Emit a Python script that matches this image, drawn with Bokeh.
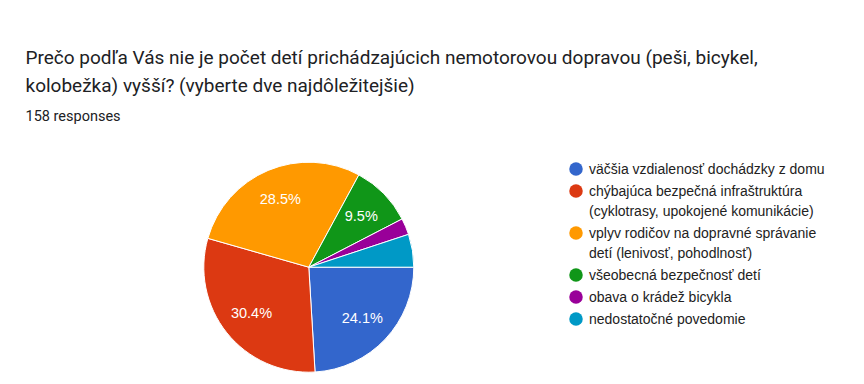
import math
from bokeh.plotting import figure
from bokeh.models import Range1d
from bokeh.core.properties import value
from bokeh.embed import file_html
from bokeh.resources import INLINE

# ---- data ----
title_lines = [
    "Prečo podľa Vás nie je počet detí prichádzajúcich nemotorovou dopravou (peši, bicykel,",
    "kolobežka) vyšší? (vyberte dve najdôležitejšie)",
]
subtitle = "158 responses"
categories = [
    "väčšia vzdialenosť dochádzky z domu",
    "chýbajúca bezpečná infraštruktúra\n(cyklotrasy, upokojené komunikácie)",
    "vplyv rodičov na dopravné správanie\ndetí (lenivosť, pohodlnosť)",
    "všeobecná bezpečnosť detí",
    "obava o krádež bicykla",
    "nedostatočné povedomie",
]
counts = [38, 48, 45, 15, 4, 8]
colors = ["#3366cc", "#dc3912", "#ff9900", "#109618", "#990099", "#0099c6"]

# ---- layout (page coords -> data coords) ----
W, H = 856, 380
def X(px):
    return px
def Y(py):
    return H - py

p = figure(width=W, height=H, output_backend="svg", toolbar_location=None,
           x_range=Range1d(0, W), y_range=Range1d(0, H),
           x_axis_type=None, y_axis_type=None, min_border=0)
p.grid.visible = False
p.outline_line_color = None
p.background_fill_color = "white"
p.border_fill_color = "white"

# title
for i, line in enumerate(title_lines):
    p.text(x=[X(25)], y=[Y(57 + 28 * i)], text=[line], text_font=value("Roboto"),
           text_font_size="19px", text_color="#202124", text_baseline="alphabetic")
p.text(x=[X(25)], y=[Y(116)], text=[subtitle], text_font=value("Roboto"),
       text_font_size="14.5px", text_color="#202124", text_baseline="alphabetic")

# pie
cx, cy, r = X(308.3), Y(266.7), 105
total = sum(counts)
acc = 0.0
for c, col in zip(counts, colors):
    a0 = 2 * math.pi * acc / total
    a1 = 2 * math.pi * (acc + c) / total
    p.wedge(x=[cx], y=[cy], radius=r, start_angle=-a0, end_angle=-a1,
            direction="clock", fill_color=col, line_color="white", line_width=1)
    frac = c / total
    if frac > 0.06:
        mid = (a0 + a1) / 2
        lx = cx + 0.7 * r * math.cos(-mid)
        ly = cy + 0.7 * r * math.sin(-mid)
        p.text(x=[lx], y=[ly], text=[f"{frac*100:.1f}%"], text_font=value("Liberation Sans"),
               text_font_size="14.5px", text_color="white", text_align="center",
               text_baseline="middle")
    acc += c

# legend
ly = 168.5
for cat, col in zip(categories, colors):
    p.scatter(x=[X(575.5)], y=[Y(ly)], size=13.5, marker="circle", fill_color=col, line_color=None)
    lines = cat.split("\n")
    for j, ln in enumerate(lines):
        p.text(x=[X(588.5)], y=[Y(ly + 20 * j)], text=[ln], text_font=value("Liberation Sans"),
               text_font_size="14px", text_color="#222222", text_baseline="middle")
    ly += 20 * (len(lines) - 1) + 22

open("out.html", "w").write(file_html(p, INLINE))
